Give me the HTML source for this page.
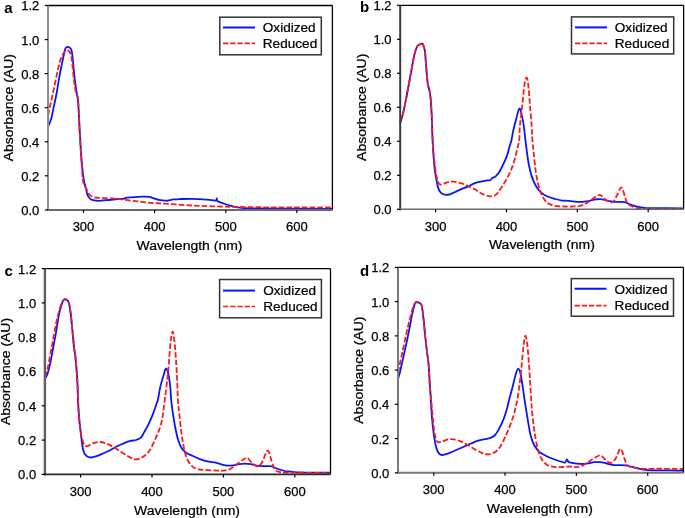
<!DOCTYPE html><html><head><meta charset="utf-8"><style>html,body{margin:0;padding:0;background:#fff;}svg{display:block;will-change:transform} .t{stroke:#000;stroke-width:0.25px}</style></head><body>
<svg width="685" height="518" viewBox="0 0 685 518" font-family='"Liberation Sans", sans-serif'>
<rect x="0" y="0" width="685" height="518" fill="#fff"/>
<path d="M48.10,126.60 C48.62,125.30 50.25,122.13 51.20,118.80 C52.15,115.47 52.93,110.67 53.80,106.60 C54.67,102.53 55.53,99.03 56.40,94.40 C57.27,89.77 58.12,83.72 59.00,78.80 C59.88,73.88 60.82,69.25 61.70,64.90 C62.58,60.55 63.58,55.58 64.30,52.70 C65.02,49.82 65.13,48.45 66.00,47.60 C66.87,46.75 68.55,47.03 69.50,47.60 C70.45,48.17 71.12,48.70 71.70,51.00 C72.28,53.30 72.65,58.22 73.00,61.40 C73.35,64.58 73.37,66.05 73.80,70.10 C74.23,74.15 75.02,81.35 75.60,85.70 C76.18,90.05 76.87,93.30 77.30,96.20 C77.73,99.10 77.92,99.63 78.20,103.10 C78.48,106.57 78.72,111.85 79.00,117.00 C79.28,122.15 79.48,126.83 79.90,134.00 C80.32,141.17 80.98,153.33 81.50,160.00 C82.02,166.67 82.50,170.12 83.00,174.00 C83.50,177.88 83.97,180.72 84.50,183.30 C85.03,185.88 85.73,187.63 86.20,189.50 C86.67,191.37 86.72,193.02 87.30,194.50 C87.88,195.98 88.72,197.45 89.70,198.40 C90.68,199.35 91.65,199.80 93.20,200.20 C94.75,200.60 96.87,200.80 99.00,200.80 C101.13,200.80 103.67,200.40 106.00,200.20 C108.33,200.00 111.05,199.80 113.00,199.60 C114.95,199.40 115.95,199.13 117.70,199.00 C119.45,198.87 122.13,199.00 123.50,198.80 C124.87,198.60 124.53,198.05 125.90,197.80 C127.27,197.55 129.75,197.45 131.70,197.30 C133.65,197.15 135.65,197.00 137.60,196.90 C139.55,196.80 141.47,196.70 143.40,196.70 C145.33,196.70 147.45,196.62 149.20,196.90 C150.95,197.18 152.33,197.90 153.90,198.40 C155.47,198.90 156.75,199.53 158.60,199.90 C160.45,200.27 163.43,200.47 165.00,200.60 C166.57,200.73 166.55,200.90 168.00,200.70 C169.45,200.50 171.48,199.68 173.70,199.40 C175.92,199.12 178.13,199.10 181.30,199.00 C184.47,198.90 189.58,198.77 192.70,198.80 C195.82,198.83 197.47,199.07 200.00,199.20 C202.53,199.33 205.27,199.38 207.90,199.60 C210.53,199.82 214.32,200.72 215.80,200.50 C217.28,200.28 216.48,198.17 216.80,198.30 C217.12,198.43 216.57,200.43 217.70,201.30 C218.83,202.17 221.62,202.80 223.60,203.50 C225.58,204.20 227.62,204.92 229.60,205.50 C231.58,206.08 233.20,206.58 235.50,207.00 C237.80,207.42 239.48,207.77 243.40,208.00 C247.32,208.23 244.23,208.27 259.00,208.40 C273.77,208.53 319.83,208.73 332.00,208.80" fill="none" stroke="#0a14ff" stroke-width="1.8" stroke-linejoin="round"/>
<path d="M48.10,115.30 C48.47,113.57 49.48,108.67 50.30,104.90 C51.12,101.13 52.12,96.77 53.00,92.70 C53.88,88.63 54.73,84.57 55.60,80.50 C56.47,76.43 57.33,71.92 58.20,68.30 C59.07,64.68 59.93,61.25 60.80,58.80 C61.67,56.35 62.38,55.05 63.40,53.60 C64.42,52.15 65.88,50.40 66.90,50.10 C67.92,49.80 68.78,50.78 69.50,51.80 C70.22,52.82 70.72,54.02 71.20,56.20 C71.68,58.38 71.97,61.13 72.40,64.90 C72.83,68.67 73.33,74.75 73.80,78.80 C74.27,82.85 74.77,86.60 75.20,89.20 C75.63,91.80 75.98,93.17 76.40,94.40 C76.82,95.63 77.38,95.15 77.70,96.60 C78.02,98.05 78.08,99.70 78.30,103.10 C78.52,106.50 78.77,111.85 79.00,117.00 C79.23,122.15 79.37,128.00 79.70,134.00 C80.03,140.00 80.48,145.48 81.00,153.00 C81.52,160.52 82.22,173.77 82.80,179.10 C83.38,184.43 83.83,183.23 84.50,185.00 C85.17,186.77 85.93,188.05 86.80,189.70 C87.67,191.35 88.45,193.63 89.70,194.90 C90.95,196.17 92.17,196.77 94.30,197.30 C96.43,197.83 99.57,197.92 102.50,198.10 C105.43,198.28 108.98,198.22 111.90,198.40 C114.82,198.58 117.08,198.85 120.00,199.20 C122.92,199.55 126.47,200.13 129.40,200.50 C132.33,200.87 134.68,201.07 137.60,201.40 C140.52,201.73 144.00,202.22 146.90,202.50 C149.80,202.78 151.98,202.90 155.00,203.10 C158.02,203.30 160.00,203.37 165.00,203.70 C170.00,204.03 179.17,204.73 185.00,205.10 C190.83,205.47 194.22,205.67 200.00,205.90 C205.78,206.13 213.13,206.32 219.70,206.50 C226.27,206.68 229.55,206.85 239.40,207.00 C249.25,207.15 263.37,207.33 278.80,207.40 C294.23,207.47 323.13,207.40 332.00,207.40" fill="none" stroke="#ff1a1a" stroke-width="1.8" stroke-dasharray="5.5 2.2" stroke-linejoin="round"/>
<line x1="48.0" y1="5.5" x2="332.4" y2="5.5" stroke="#000" stroke-width="1.3"/>
<line x1="332.4" y1="5.5" x2="332.4" y2="209.9" stroke="#000" stroke-width="1.3"/>
<line x1="48.0" y1="5.5" x2="48.0" y2="210.9" stroke="#8a8a8a" stroke-width="2.0"/>
<line x1="47.0" y1="209.9" x2="332.4" y2="209.9" stroke="#6a6a6a" stroke-width="2.0"/>
<line x1="44.8" y1="209.9" x2="48.0" y2="209.9" stroke="#000" stroke-width="1.2"/>
<text x="39.3" y="214.8" font-size="13" text-anchor="end" fill="#000" class="t">0.0</text>
<line x1="44.8" y1="175.8" x2="48.0" y2="175.8" stroke="#000" stroke-width="1.2"/>
<text x="39.3" y="180.7" font-size="13" text-anchor="end" fill="#000" class="t">0.2</text>
<line x1="44.8" y1="141.8" x2="48.0" y2="141.8" stroke="#000" stroke-width="1.2"/>
<text x="39.3" y="146.7" font-size="13" text-anchor="end" fill="#000" class="t">0.4</text>
<line x1="44.8" y1="107.7" x2="48.0" y2="107.7" stroke="#000" stroke-width="1.2"/>
<text x="39.3" y="112.6" font-size="13" text-anchor="end" fill="#000" class="t">0.6</text>
<line x1="44.8" y1="73.6" x2="48.0" y2="73.6" stroke="#000" stroke-width="1.2"/>
<text x="39.3" y="78.5" font-size="13" text-anchor="end" fill="#000" class="t">0.8</text>
<line x1="44.8" y1="39.6" x2="48.0" y2="39.6" stroke="#000" stroke-width="1.2"/>
<text x="39.3" y="44.5" font-size="13" text-anchor="end" fill="#000" class="t">1.0</text>
<line x1="44.8" y1="5.5" x2="48.0" y2="5.5" stroke="#000" stroke-width="1.2"/>
<text x="39.3" y="10.4" font-size="13" text-anchor="end" fill="#000" class="t">1.2</text>
<line x1="83.5" y1="209.9" x2="83.5" y2="212.9" stroke="#000" stroke-width="1.2"/>
<text x="83.5" y="231.4" font-size="13" text-anchor="middle" fill="#000" class="t">300</text>
<line x1="154.6" y1="209.9" x2="154.6" y2="212.9" stroke="#000" stroke-width="1.2"/>
<text x="154.6" y="231.4" font-size="13" text-anchor="middle" fill="#000" class="t">400</text>
<line x1="225.8" y1="209.9" x2="225.8" y2="212.9" stroke="#000" stroke-width="1.2"/>
<text x="225.8" y="231.4" font-size="13" text-anchor="middle" fill="#000" class="t">500</text>
<line x1="296.8" y1="209.9" x2="296.8" y2="212.9" stroke="#000" stroke-width="1.2"/>
<text x="296.8" y="231.4" font-size="13" text-anchor="middle" fill="#000" class="t">600</text>
<text transform="translate(189.5,249.6) scale(1,0.95)" x="0" y="0" font-size="14" text-anchor="middle" fill="#000" class="t">Wavelength (nm)</text>
<text transform="translate(13.3,107.7) rotate(-90) scale(1,0.93)" x="0" y="0" font-size="14" text-anchor="middle" fill="#000" class="t">Absorbance (AU)</text>
<rect x="219.8" y="17.2" width="101.5" height="37.6" fill="#fff" stroke="#333" stroke-width="1.5"/>
<line x1="223" y1="27.5" x2="255" y2="27.5" stroke="#0a14ff" stroke-width="2"/>
<line x1="223" y1="43.3" x2="255" y2="43.3" stroke="#ff1a1a" stroke-width="1.7" stroke-dasharray="5.3 1.9"/>
<text transform="translate(262.8,31.8) scale(1,0.94)" font-size="13.6" fill="#000" class="t">Oxidized</text>
<text transform="translate(262.8,47.8) scale(1,0.94)" font-size="13.6" fill="#000" class="t">Reduced</text>
<text x="4.3" y="12.6" font-size="15" font-weight="bold" fill="#000">a</text>
<path d="M400.20,122.60 C400.62,121.32 401.80,118.43 402.70,114.90 C403.60,111.37 404.63,106.22 405.60,101.40 C406.57,96.58 407.53,91.15 408.50,86.00 C409.47,80.85 410.43,75.65 411.40,70.50 C412.37,65.35 413.33,59.12 414.30,55.10 C415.27,51.08 416.08,48.27 417.20,46.40 C418.32,44.53 420.03,44.22 421.00,43.90 C421.97,43.58 422.35,43.28 423.00,44.50 C423.65,45.72 424.42,48.15 424.90,51.20 C425.38,54.25 425.58,58.93 425.90,62.80 C426.22,66.67 426.48,70.87 426.80,74.40 C427.12,77.93 427.32,81.12 427.80,84.00 C428.28,86.88 429.22,89.12 429.70,91.70 C430.18,94.28 430.37,95.63 430.70,99.50 C431.03,103.37 431.48,110.65 431.70,114.90 C431.92,119.15 431.87,121.18 432.00,125.00 C432.13,128.82 432.25,132.70 432.50,137.80 C432.75,142.90 433.12,150.27 433.50,155.60 C433.88,160.93 434.28,165.67 434.80,169.80 C435.32,173.93 436.02,177.30 436.60,180.40 C437.18,183.50 437.57,186.32 438.30,188.40 C439.03,190.48 439.95,191.85 441.00,192.90 C442.05,193.95 443.12,194.47 444.60,194.70 C446.08,194.93 448.13,194.75 449.90,194.30 C451.67,193.85 453.42,192.83 455.20,192.00 C456.98,191.17 458.52,190.18 460.60,189.30 C462.68,188.42 465.33,187.73 467.70,186.70 C470.07,185.67 472.43,184.00 474.80,183.10 C477.17,182.20 479.83,181.75 481.90,181.30 C483.97,180.85 485.85,180.57 487.20,180.40 C488.55,180.23 489.10,180.73 490.00,180.30 C490.90,179.87 491.67,178.45 492.60,177.80 C493.53,177.15 494.42,177.48 495.60,176.40 C496.78,175.32 498.32,173.55 499.70,171.30 C501.08,169.05 502.62,165.68 503.90,162.90 C505.18,160.12 506.48,157.27 507.40,154.60 C508.32,151.93 508.72,149.33 509.40,146.90 C510.08,144.47 510.88,142.58 511.50,140.00 C512.12,137.42 512.32,134.90 513.10,131.40 C513.88,127.90 515.17,122.80 516.20,119.00 C517.23,115.20 518.40,109.37 519.30,108.60 C520.20,107.83 520.83,111.37 521.60,114.40 C522.37,117.43 523.27,122.53 523.90,126.80 C524.53,131.07 524.92,135.95 525.40,140.00 C525.88,144.05 526.22,146.93 526.80,151.10 C527.38,155.27 528.08,160.83 528.90,165.00 C529.72,169.17 530.55,172.63 531.70,176.10 C532.85,179.57 534.30,183.13 535.80,185.80 C537.30,188.47 538.85,190.35 540.70,192.10 C542.55,193.85 544.47,195.15 546.90,196.30 C549.33,197.45 552.75,198.27 555.30,199.00 C557.85,199.73 560.58,200.43 562.20,200.70 C563.82,200.97 563.57,200.52 565.00,200.60 C566.43,200.68 568.85,201.00 570.80,201.20 C572.75,201.40 574.75,201.70 576.70,201.80 C578.65,201.90 580.55,201.90 582.50,201.80 C584.45,201.70 586.45,201.58 588.40,201.20 C590.35,200.82 592.27,199.85 594.20,199.50 C596.13,199.15 598.25,199.05 600.00,199.10 C601.75,199.15 603.13,199.45 604.70,199.80 C606.27,200.15 607.85,200.87 609.40,201.20 C610.95,201.53 612.25,201.70 614.00,201.80 C615.75,201.90 618.13,201.75 619.90,201.80 C621.67,201.85 623.23,201.82 624.60,202.10 C625.97,202.38 626.75,202.97 628.10,203.50 C629.45,204.03 630.95,204.75 632.70,205.30 C634.45,205.85 636.55,206.35 638.60,206.80 C640.65,207.25 643.40,207.78 645.00,208.00 C646.60,208.22 641.87,208.03 648.20,208.10 C654.53,208.17 677.20,208.35 683.00,208.40" fill="none" stroke="#0a14ff" stroke-width="1.8" stroke-linejoin="round"/>
<path d="M400.20,122.60 C400.62,121.32 401.80,118.43 402.70,114.90 C403.60,111.37 404.63,106.22 405.60,101.40 C406.57,96.58 407.53,91.15 408.50,86.00 C409.47,80.85 410.43,75.65 411.40,70.50 C412.37,65.35 413.33,59.12 414.30,55.10 C415.27,51.08 416.08,48.27 417.20,46.40 C418.32,44.53 420.03,44.22 421.00,43.90 C421.97,43.58 422.35,43.28 423.00,44.50 C423.65,45.72 424.42,48.15 424.90,51.20 C425.38,54.25 425.58,58.93 425.90,62.80 C426.22,66.67 426.48,70.87 426.80,74.40 C427.12,77.93 427.32,81.12 427.80,84.00 C428.28,86.88 429.22,89.12 429.70,91.70 C430.18,94.28 430.37,95.63 430.70,99.50 C431.03,103.37 431.48,110.65 431.70,114.90 C431.92,119.15 431.78,119.70 432.00,125.00 C432.22,130.30 432.53,140.13 433.00,146.70 C433.47,153.27 434.20,159.37 434.80,164.40 C435.40,169.43 435.87,173.63 436.60,176.90 C437.33,180.17 438.17,182.82 439.20,184.00 C440.23,185.18 441.32,184.30 442.80,184.00 C444.28,183.70 446.33,182.58 448.10,182.20 C449.87,181.82 451.32,181.55 453.40,181.70 C455.48,181.85 458.22,182.42 460.60,183.10 C462.98,183.78 465.33,184.77 467.70,185.80 C470.07,186.83 472.43,187.97 474.80,189.30 C477.17,190.63 479.53,192.67 481.90,193.80 C484.27,194.93 487.32,195.70 489.00,196.10 C490.68,196.50 490.82,196.43 492.00,196.20 C493.18,195.97 494.58,196.08 496.10,194.70 C497.62,193.32 499.33,190.53 501.10,187.90 C502.87,185.27 505.08,181.78 506.70,178.90 C508.32,176.02 509.53,173.62 510.80,170.60 C512.07,167.58 513.25,164.28 514.30,160.80 C515.35,157.32 516.28,153.17 517.10,149.70 C517.92,146.23 518.75,143.82 519.20,140.00 C519.65,136.18 519.40,131.58 519.80,126.80 C520.20,122.02 521.03,116.45 521.60,111.30 C522.17,106.15 522.70,100.45 523.20,95.90 C523.70,91.35 524.08,87.03 524.60,84.00 C525.12,80.97 525.82,78.37 526.30,77.70 C526.78,77.03 527.12,78.25 527.50,80.00 C527.88,81.75 528.17,83.75 528.60,88.20 C529.03,92.65 529.58,100.27 530.10,106.70 C530.62,113.13 531.32,121.25 531.70,126.80 C532.08,132.35 532.05,135.48 532.40,140.00 C532.75,144.52 533.23,148.58 533.80,153.90 C534.37,159.22 535.00,166.58 535.80,171.90 C536.60,177.22 537.55,181.85 538.60,185.80 C539.65,189.75 540.72,192.82 542.10,195.60 C543.48,198.38 545.17,200.88 546.90,202.50 C548.63,204.12 550.42,204.67 552.50,205.30 C554.58,205.93 557.32,206.10 559.40,206.30 C561.48,206.50 562.90,206.47 565.00,206.50 C567.10,206.53 569.67,206.57 572.00,206.50 C574.33,206.43 576.85,206.50 579.00,206.10 C581.15,205.70 583.15,204.92 584.90,204.10 C586.65,203.28 587.95,202.27 589.50,201.20 C591.05,200.13 592.53,198.77 594.20,197.70 C595.87,196.63 598.13,195.00 599.50,194.80 C600.87,194.60 601.33,195.63 602.40,196.50 C603.47,197.37 604.63,199.07 605.90,200.00 C607.17,200.93 608.83,201.75 610.00,202.10 C611.17,202.45 612.03,202.63 612.90,202.10 C613.77,201.57 614.33,200.42 615.20,198.90 C616.07,197.38 617.17,194.92 618.10,193.00 C619.03,191.08 620.02,187.88 620.80,187.40 C621.58,186.92 622.17,188.77 622.80,190.10 C623.43,191.43 623.92,193.35 624.60,195.40 C625.28,197.45 625.93,200.70 626.90,202.40 C627.87,204.10 628.85,204.68 630.40,205.60 C631.95,206.52 633.77,207.33 636.20,207.90 C638.63,208.47 637.20,208.82 645.00,209.00 C652.80,209.18 676.67,209.00 683.00,209.00" fill="none" stroke="#ff1a1a" stroke-width="1.8" stroke-dasharray="5.5 2.2" stroke-linejoin="round"/>
<line x1="400.2" y1="5.3" x2="683.6" y2="5.3" stroke="#000" stroke-width="1.3"/>
<line x1="683.6" y1="5.3" x2="683.6" y2="209.3" stroke="#000" stroke-width="1.3"/>
<line x1="400.2" y1="5.3" x2="400.2" y2="210.3" stroke="#3a3a3a" stroke-width="2.0"/>
<line x1="399.2" y1="209.3" x2="683.6" y2="209.3" stroke="#6a6a6a" stroke-width="1.6"/>
<line x1="397.0" y1="209.3" x2="400.2" y2="209.3" stroke="#000" stroke-width="1.2"/>
<text x="391.5" y="214.2" font-size="13" text-anchor="end" fill="#000" class="t">0.0</text>
<line x1="397.0" y1="175.3" x2="400.2" y2="175.3" stroke="#000" stroke-width="1.2"/>
<text x="391.5" y="180.2" font-size="13" text-anchor="end" fill="#000" class="t">0.2</text>
<line x1="397.0" y1="141.3" x2="400.2" y2="141.3" stroke="#000" stroke-width="1.2"/>
<text x="391.5" y="146.2" font-size="13" text-anchor="end" fill="#000" class="t">0.4</text>
<line x1="397.0" y1="107.3" x2="400.2" y2="107.3" stroke="#000" stroke-width="1.2"/>
<text x="391.5" y="112.2" font-size="13" text-anchor="end" fill="#000" class="t">0.6</text>
<line x1="397.0" y1="73.3" x2="400.2" y2="73.3" stroke="#000" stroke-width="1.2"/>
<text x="391.5" y="78.2" font-size="13" text-anchor="end" fill="#000" class="t">0.8</text>
<line x1="397.0" y1="39.3" x2="400.2" y2="39.3" stroke="#000" stroke-width="1.2"/>
<text x="391.5" y="44.2" font-size="13" text-anchor="end" fill="#000" class="t">1.0</text>
<line x1="397.0" y1="5.3" x2="400.2" y2="5.3" stroke="#000" stroke-width="1.2"/>
<text x="391.5" y="10.2" font-size="13" text-anchor="end" fill="#000" class="t">1.2</text>
<line x1="435.6" y1="209.3" x2="435.6" y2="212.3" stroke="#000" stroke-width="1.2"/>
<text x="435.6" y="230.8" font-size="13" text-anchor="middle" fill="#000" class="t">300</text>
<line x1="506.5" y1="209.3" x2="506.5" y2="212.3" stroke="#000" stroke-width="1.2"/>
<text x="506.5" y="230.8" font-size="13" text-anchor="middle" fill="#000" class="t">400</text>
<line x1="577.3" y1="209.3" x2="577.3" y2="212.3" stroke="#000" stroke-width="1.2"/>
<text x="577.3" y="230.8" font-size="13" text-anchor="middle" fill="#000" class="t">500</text>
<line x1="648.2" y1="209.3" x2="648.2" y2="212.3" stroke="#000" stroke-width="1.2"/>
<text x="648.2" y="230.8" font-size="13" text-anchor="middle" fill="#000" class="t">600</text>
<text transform="translate(541.9,248.6) scale(1,0.95)" x="0" y="0" font-size="14" text-anchor="middle" fill="#000" class="t">Wavelength (nm)</text>
<text transform="translate(365.5,107.3) rotate(-90) scale(1,0.93)" x="0" y="0" font-size="14" text-anchor="middle" fill="#000" class="t">Absorbance (AU)</text>
<rect x="571.5" y="16.9" width="102.2" height="37.0" fill="#fff" stroke="#333" stroke-width="1.5"/>
<line x1="575" y1="27.4" x2="607" y2="27.4" stroke="#0a14ff" stroke-width="2"/>
<line x1="575" y1="43.3" x2="607" y2="43.3" stroke="#ff1a1a" stroke-width="1.7" stroke-dasharray="5.3 1.9"/>
<text transform="translate(614.8,31.8) scale(1,0.94)" font-size="13.6" fill="#000" class="t">Oxidized</text>
<text transform="translate(614.8,47.9) scale(1,0.94)" font-size="13.6" fill="#000" class="t">Reduced</text>
<text x="360.0" y="12.3" font-size="15" font-weight="bold" fill="#000">b</text>
<path d="M44.90,379.00 C45.35,378.08 46.68,376.27 47.60,373.50 C48.52,370.73 49.47,366.72 50.40,362.40 C51.33,358.08 52.27,352.55 53.20,347.60 C54.13,342.65 55.08,337.95 56.00,332.70 C56.92,327.45 57.78,320.72 58.70,316.10 C59.62,311.48 60.67,307.72 61.50,305.00 C62.33,302.28 62.83,300.67 63.70,299.80 C64.57,298.93 65.83,299.25 66.70,299.80 C67.57,300.35 68.22,300.70 68.90,303.10 C69.58,305.50 70.18,309.27 70.80,314.20 C71.42,319.13 72.05,327.13 72.60,332.70 C73.15,338.27 73.63,343.58 74.10,347.60 C74.57,351.62 74.97,352.80 75.40,356.80 C75.83,360.80 76.33,366.73 76.70,371.60 C77.07,376.47 77.40,381.45 77.60,386.00 C77.80,390.55 77.65,393.60 77.90,398.90 C78.15,404.20 78.58,411.82 79.10,417.80 C79.62,423.78 80.32,429.43 81.00,434.80 C81.68,440.17 82.35,446.53 83.20,450.00 C84.05,453.47 84.83,454.35 86.10,455.60 C87.37,456.85 89.07,457.40 90.80,457.50 C92.53,457.60 94.60,456.82 96.50,456.20 C98.40,455.58 100.00,454.75 102.20,453.80 C104.40,452.85 107.18,451.77 109.70,450.50 C112.22,449.23 114.78,447.48 117.30,446.20 C119.82,444.92 122.60,443.68 124.80,442.80 C127.00,441.92 128.60,441.37 130.50,440.90 C132.40,440.43 134.47,440.53 136.20,440.00 C137.93,439.47 139.60,438.97 140.90,437.70 C142.20,436.43 142.72,434.67 144.00,432.40 C145.28,430.13 147.08,427.23 148.60,424.10 C150.12,420.97 151.73,417.12 153.10,413.60 C154.47,410.08 156.00,405.27 156.80,403.00 C157.60,400.73 157.30,402.77 157.90,400.00 C158.50,397.23 159.47,390.47 160.40,386.40 C161.33,382.33 162.60,378.57 163.50,375.60 C164.40,372.63 165.02,368.98 165.80,368.60 C166.58,368.22 167.47,370.33 168.20,373.30 C168.93,376.27 169.70,381.95 170.20,386.40 C170.70,390.85 170.78,395.72 171.20,400.00 C171.62,404.28 172.08,407.83 172.70,412.10 C173.32,416.37 174.03,421.08 174.90,425.60 C175.77,430.12 176.77,435.43 177.90,439.20 C179.03,442.97 180.32,445.95 181.70,448.20 C183.08,450.45 184.43,451.45 186.20,452.70 C187.97,453.95 190.03,454.63 192.30,455.70 C194.57,456.77 197.30,458.17 199.80,459.10 C202.30,460.03 204.63,460.70 207.30,461.30 C209.97,461.90 213.40,462.17 215.80,462.70 C218.20,463.23 219.75,464.02 221.70,464.50 C223.65,464.98 225.55,465.47 227.50,465.60 C229.45,465.73 231.45,465.55 233.40,465.30 C235.35,465.05 237.27,464.38 239.20,464.10 C241.13,463.82 243.05,463.58 245.00,463.60 C246.95,463.62 248.95,463.87 250.90,464.20 C252.85,464.53 254.75,465.27 256.70,465.60 C258.65,465.93 260.65,466.10 262.60,466.20 C264.55,466.30 266.85,466.17 268.40,466.20 C269.95,466.23 270.73,466.10 271.90,466.40 C273.07,466.70 274.03,467.45 275.40,468.00 C276.77,468.55 278.37,469.15 280.10,469.70 C281.83,470.25 283.88,470.98 285.80,471.30 C287.72,471.62 289.67,471.42 291.60,471.60 C293.53,471.78 290.93,472.22 297.40,472.40 C303.87,472.58 324.90,472.65 330.40,472.70" fill="none" stroke="#0a14ff" stroke-width="1.8" stroke-linejoin="round"/>
<path d="M44.90,376.80 C45.35,375.42 46.68,372.30 47.60,368.50 C48.52,364.70 49.47,358.92 50.40,354.00 C51.33,349.08 52.27,344.00 53.20,339.00 C54.13,334.00 55.08,328.43 56.00,324.00 C56.92,319.57 57.78,315.88 58.70,312.40 C59.62,308.92 60.67,305.20 61.50,303.10 C62.33,301.00 62.83,300.35 63.70,299.80 C64.57,299.25 65.83,299.25 66.70,299.80 C67.57,300.35 68.22,300.70 68.90,303.10 C69.58,305.50 70.18,309.27 70.80,314.20 C71.42,319.13 72.05,327.13 72.60,332.70 C73.15,338.27 73.63,343.58 74.10,347.60 C74.57,351.62 74.97,352.80 75.40,356.80 C75.83,360.80 76.33,366.73 76.70,371.60 C77.07,376.47 77.30,379.87 77.60,386.00 C77.90,392.13 78.03,401.20 78.50,408.40 C78.97,415.60 79.62,423.53 80.40,429.20 C81.18,434.87 82.10,439.57 83.20,442.40 C84.30,445.23 85.42,446.03 87.00,446.20 C88.58,446.37 90.65,444.10 92.70,443.40 C94.75,442.70 97.10,442.00 99.30,442.00 C101.50,442.00 103.53,442.55 105.90,443.40 C108.27,444.25 110.97,445.68 113.50,447.10 C116.03,448.52 118.58,450.32 121.10,451.90 C123.62,453.48 126.25,455.35 128.60,456.60 C130.95,457.85 133.13,459.17 135.20,459.40 C137.27,459.63 139.28,458.73 141.00,458.00 C142.72,457.27 143.98,456.38 145.50,455.00 C147.02,453.62 148.58,452.08 150.10,449.70 C151.62,447.32 153.10,443.97 154.60,440.70 C156.10,437.43 157.85,433.62 159.10,430.10 C160.35,426.58 161.35,423.12 162.10,419.60 C162.85,416.08 163.10,412.73 163.60,409.00 C164.10,405.27 164.47,402.25 165.10,397.20 C165.73,392.15 166.77,384.37 167.40,378.70 C168.03,373.03 168.38,369.12 168.90,363.20 C169.42,357.28 169.90,348.47 170.50,343.20 C171.10,337.93 171.87,332.12 172.50,331.60 C173.13,331.08 173.73,335.60 174.30,340.10 C174.87,344.60 175.43,352.17 175.90,358.60 C176.37,365.03 176.77,371.80 177.10,378.70 C177.43,385.60 177.52,393.93 177.90,400.00 C178.28,406.07 178.77,409.32 179.40,415.10 C180.03,420.88 180.93,429.18 181.70,434.70 C182.47,440.22 183.12,444.18 184.00,448.20 C184.88,452.22 185.62,455.78 187.00,458.80 C188.38,461.82 190.42,464.55 192.30,466.30 C194.18,468.05 195.80,468.67 198.30,469.30 C200.80,469.93 204.18,469.88 207.30,470.10 C210.42,470.32 214.22,470.52 217.00,470.60 C219.78,470.68 221.85,470.85 224.00,470.60 C226.15,470.35 228.15,469.83 229.90,469.10 C231.65,468.37 232.95,467.30 234.50,466.20 C236.05,465.10 237.63,463.67 239.20,462.50 C240.77,461.33 242.58,459.98 243.90,459.20 C245.22,458.42 246.13,457.60 247.10,457.80 C248.07,458.00 248.68,459.38 249.70,460.40 C250.72,461.42 251.93,462.90 253.20,463.90 C254.47,464.90 256.13,466.22 257.30,466.40 C258.47,466.58 259.23,466.00 260.20,465.00 C261.17,464.00 262.22,462.25 263.10,460.40 C263.98,458.55 264.82,455.50 265.50,453.90 C266.18,452.30 266.62,451.08 267.20,450.80 C267.78,450.52 268.42,451.00 269.00,452.20 C269.58,453.40 270.02,455.77 270.70,458.00 C271.38,460.23 272.32,463.55 273.10,465.60 C273.88,467.65 274.23,469.20 275.40,470.30 C276.57,471.40 277.67,471.82 280.10,472.20 C282.53,472.58 281.62,472.47 290.00,472.60 C298.38,472.73 323.67,472.93 330.40,473.00" fill="none" stroke="#ff1a1a" stroke-width="1.8" stroke-dasharray="5.5 2.2" stroke-linejoin="round"/>
<line x1="44.9" y1="268.6" x2="330.5" y2="268.6" stroke="#000" stroke-width="1.3"/>
<line x1="330.5" y1="268.6" x2="330.5" y2="474.4" stroke="#000" stroke-width="1.3"/>
<line x1="44.9" y1="268.6" x2="44.9" y2="475.4" stroke="#606060" stroke-width="2.4"/>
<line x1="43.9" y1="474.4" x2="330.5" y2="474.4" stroke="#2a2a2a" stroke-width="1.6"/>
<line x1="41.699999999999996" y1="474.4" x2="44.9" y2="474.4" stroke="#000" stroke-width="1.2"/>
<text x="36.2" y="479.3" font-size="13" text-anchor="end" fill="#000" class="t">0.0</text>
<line x1="41.699999999999996" y1="440.1" x2="44.9" y2="440.1" stroke="#000" stroke-width="1.2"/>
<text x="36.2" y="445.0" font-size="13" text-anchor="end" fill="#000" class="t">0.2</text>
<line x1="41.699999999999996" y1="405.8" x2="44.9" y2="405.8" stroke="#000" stroke-width="1.2"/>
<text x="36.2" y="410.7" font-size="13" text-anchor="end" fill="#000" class="t">0.4</text>
<text x="36.2" y="376.4" font-size="13" text-anchor="end" fill="#000" class="t">0.6</text>
<text x="36.2" y="342.1" font-size="13" text-anchor="end" fill="#000" class="t">0.8</text>
<line x1="41.699999999999996" y1="302.9" x2="44.9" y2="302.9" stroke="#000" stroke-width="1.2"/>
<text x="36.2" y="307.8" font-size="13" text-anchor="end" fill="#000" class="t">1.0</text>
<line x1="41.699999999999996" y1="268.6" x2="44.9" y2="268.6" stroke="#000" stroke-width="1.2"/>
<text x="36.2" y="273.5" font-size="13" text-anchor="end" fill="#000" class="t">1.2</text>
<line x1="80.6" y1="474.4" x2="80.6" y2="477.4" stroke="#000" stroke-width="1.2"/>
<text x="80.6" y="495.9" font-size="13" text-anchor="middle" fill="#000" class="t">300</text>
<line x1="152.0" y1="474.4" x2="152.0" y2="477.4" stroke="#000" stroke-width="1.2"/>
<text x="152.0" y="495.9" font-size="13" text-anchor="middle" fill="#000" class="t">400</text>
<line x1="223.4" y1="474.4" x2="223.4" y2="477.4" stroke="#000" stroke-width="1.2"/>
<text x="223.4" y="495.9" font-size="13" text-anchor="middle" fill="#000" class="t">500</text>
<line x1="294.8" y1="474.4" x2="294.8" y2="477.4" stroke="#000" stroke-width="1.2"/>
<text x="294.8" y="495.9" font-size="13" text-anchor="middle" fill="#000" class="t">600</text>
<text transform="translate(187.0,514.5) scale(1,0.95)" x="0" y="0" font-size="14" text-anchor="middle" fill="#000" class="t">Wavelength (nm)</text>
<text transform="translate(10.2,371.5) rotate(-90) scale(1,0.93)" x="0" y="0" font-size="14" text-anchor="middle" fill="#000" class="t">Absorbance (AU)</text>
<rect x="219.6" y="279.5" width="101.8" height="38.3" fill="#fff" stroke="#333" stroke-width="1.5"/>
<line x1="223" y1="290.6" x2="255" y2="290.6" stroke="#0a14ff" stroke-width="2"/>
<line x1="223" y1="306.5" x2="255" y2="306.5" stroke="#ff1a1a" stroke-width="1.7" stroke-dasharray="5.3 1.9"/>
<text transform="translate(263.2,295.0) scale(1,0.94)" font-size="13.6" fill="#000" class="t">Oxidized</text>
<text transform="translate(263.2,311.0) scale(1,0.94)" font-size="13.6" fill="#000" class="t">Reduced</text>
<text x="4.5" y="275.5" font-size="15" font-weight="bold" fill="#000">c</text>
<path d="M398.00,379.10 C398.38,377.72 399.47,374.22 400.30,370.80 C401.13,367.38 402.03,362.95 403.00,358.60 C403.97,354.25 405.10,349.33 406.10,344.70 C407.10,340.07 408.02,335.73 409.00,330.80 C409.98,325.87 411.12,319.30 412.00,315.10 C412.88,310.90 413.63,307.77 414.30,305.60 C414.97,303.43 415.13,302.53 416.00,302.10 C416.87,301.67 418.55,302.42 419.50,303.00 C420.45,303.58 421.03,303.00 421.70,305.60 C422.37,308.20 422.92,313.53 423.50,318.60 C424.08,323.67 424.62,330.48 425.20,336.00 C425.78,341.52 426.42,346.77 427.00,351.70 C427.58,356.63 428.22,359.88 428.70,365.60 C429.18,371.32 429.55,380.52 429.90,386.00 C430.25,391.48 430.47,393.33 430.80,398.50 C431.13,403.67 431.42,411.13 431.90,417.00 C432.38,422.87 433.02,428.75 433.70,433.70 C434.38,438.65 435.17,443.47 436.00,446.70 C436.83,449.93 437.63,451.72 438.70,453.10 C439.77,454.48 440.70,455.00 442.40,455.00 C444.10,455.00 446.58,453.93 448.90,453.10 C451.22,452.27 453.83,451.07 456.30,450.00 C458.77,448.93 461.23,447.78 463.70,446.70 C466.17,445.62 468.93,444.43 471.10,443.50 C473.27,442.57 474.83,441.75 476.70,441.10 C478.57,440.45 480.45,440.00 482.30,439.60 C484.15,439.20 486.52,438.98 487.80,438.70 C489.08,438.42 488.88,438.40 490.00,437.90 C491.12,437.40 493.00,437.20 494.50,435.70 C496.00,434.20 497.48,431.67 499.00,428.90 C500.52,426.13 502.33,422.23 503.60,419.10 C504.87,415.97 505.73,413.12 506.60,410.10 C507.47,407.08 508.38,402.68 508.80,401.00 C509.22,399.32 508.45,402.43 509.10,400.00 C509.75,397.57 511.58,390.72 512.70,386.40 C513.82,382.08 514.90,377.07 515.80,374.10 C516.70,371.13 517.33,368.73 518.10,368.60 C518.87,368.47 519.68,370.58 520.40,373.30 C521.12,376.02 521.70,380.45 522.40,384.90 C523.10,389.35 523.97,395.80 524.60,400.00 C525.23,404.20 525.57,406.17 526.20,410.10 C526.83,414.03 527.65,419.33 528.40,423.60 C529.15,427.87 529.70,432.05 530.70,435.70 C531.70,439.35 532.90,442.75 534.40,445.50 C535.90,448.25 537.82,450.50 539.70,452.20 C541.58,453.90 543.43,454.57 545.70,455.70 C547.97,456.83 550.53,457.95 553.30,459.00 C556.07,460.05 560.35,461.42 562.30,462.00 C564.25,462.58 564.20,462.92 565.00,462.50 C565.80,462.08 566.52,459.60 567.10,459.50 C567.68,459.40 567.68,461.35 568.50,461.90 C569.32,462.45 570.63,462.52 572.00,462.80 C573.37,463.08 574.95,463.40 576.70,463.60 C578.45,463.80 580.55,464.05 582.50,464.00 C584.45,463.95 586.45,463.60 588.40,463.30 C590.35,463.00 592.27,462.40 594.20,462.20 C596.13,462.00 598.25,462.00 600.00,462.10 C601.75,462.20 603.13,462.45 604.70,462.80 C606.27,463.15 607.85,463.82 609.40,464.20 C610.95,464.58 612.25,464.95 614.00,465.10 C615.75,465.25 617.95,465.05 619.90,465.10 C621.85,465.15 623.95,465.17 625.70,465.40 C627.45,465.63 628.83,466.12 630.40,466.50 C631.97,466.88 633.55,467.30 635.10,467.70 C636.65,468.10 638.05,468.55 639.70,468.90 C641.35,469.25 643.58,469.60 645.00,469.80 C646.42,470.00 645.75,470.02 648.20,470.10 C650.65,470.18 655.85,470.27 659.70,470.30 C663.55,470.33 667.42,470.23 671.30,470.30 C675.18,470.37 681.05,470.63 683.00,470.70" fill="none" stroke="#0a14ff" stroke-width="1.8" stroke-linejoin="round"/>
<path d="M398.00,372.50 C398.25,371.35 398.82,368.78 399.50,365.60 C400.18,362.42 401.18,357.75 402.10,353.40 C403.02,349.05 403.98,344.13 405.00,339.50 C406.02,334.87 407.15,329.95 408.20,325.60 C409.25,321.25 410.43,316.60 411.30,313.40 C412.17,310.20 412.70,308.20 413.40,306.40 C414.10,304.60 414.48,303.17 415.50,302.60 C416.52,302.03 418.47,302.50 419.50,303.00 C420.53,303.50 421.03,303.00 421.70,305.60 C422.37,308.20 422.92,313.53 423.50,318.60 C424.08,323.67 424.62,330.48 425.20,336.00 C425.78,341.52 426.42,346.77 427.00,351.70 C427.58,356.63 428.22,359.88 428.70,365.60 C429.18,371.32 429.37,378.97 429.90,386.00 C430.43,393.03 431.20,400.47 431.90,407.80 C432.60,415.13 433.27,424.45 434.10,430.00 C434.93,435.55 435.82,439.10 436.90,441.10 C437.98,443.10 438.90,442.25 440.60,442.00 C442.30,441.75 444.93,440.05 447.10,439.60 C449.27,439.15 451.45,439.05 453.60,439.30 C455.75,439.55 457.70,440.18 460.00,441.10 C462.30,442.02 464.92,443.42 467.40,444.80 C469.88,446.18 472.42,448.02 474.90,449.40 C477.38,450.78 480.15,452.27 482.30,453.10 C484.45,453.93 486.52,454.25 487.80,454.40 C489.08,454.55 488.63,454.48 490.00,454.00 C491.37,453.52 494.25,452.80 496.00,451.50 C497.75,450.20 498.98,448.58 500.50,446.20 C502.02,443.82 503.58,440.47 505.10,437.20 C506.62,433.93 508.22,430.12 509.60,426.60 C510.98,423.08 512.40,419.37 513.40,416.10 C514.40,412.83 514.95,409.68 515.60,407.00 C516.25,404.32 516.58,404.20 517.30,400.00 C518.02,395.80 519.13,387.93 519.90,381.80 C520.67,375.67 521.30,369.12 521.90,363.20 C522.50,357.28 522.93,350.87 523.50,346.30 C524.07,341.73 524.67,336.07 525.30,335.80 C525.93,335.53 526.70,340.13 527.30,344.70 C527.90,349.27 528.43,357.02 528.90,363.20 C529.37,369.38 529.72,375.67 530.10,381.80 C530.48,387.93 530.85,394.78 531.20,400.00 C531.55,405.22 531.67,407.92 532.20,413.10 C532.73,418.28 533.52,425.33 534.40,431.10 C535.28,436.87 536.37,443.17 537.50,447.70 C538.63,452.23 539.57,455.42 541.20,458.30 C542.83,461.18 545.03,463.55 547.30,465.00 C549.57,466.45 552.30,466.67 554.80,467.00 C557.30,467.33 559.77,467.08 562.30,467.00 C564.83,466.92 567.60,466.48 570.00,466.50 C572.40,466.52 574.62,467.25 576.70,467.10 C578.78,466.95 580.55,466.47 582.50,465.60 C584.45,464.73 586.45,463.15 588.40,461.90 C590.35,460.65 592.27,459.18 594.20,458.10 C596.13,457.02 598.45,455.45 600.00,455.40 C601.55,455.35 602.33,456.82 603.50,457.80 C604.67,458.78 605.92,460.47 607.00,461.30 C608.08,462.13 609.02,462.70 610.00,462.80 C610.98,462.90 611.83,462.83 612.90,461.90 C613.97,460.97 615.43,458.95 616.40,457.20 C617.37,455.45 618.02,452.80 618.70,451.40 C619.38,450.00 619.92,448.80 620.50,448.80 C621.08,448.80 621.62,450.00 622.20,451.40 C622.78,452.80 623.32,455.17 624.00,457.20 C624.68,459.23 625.43,462.05 626.30,463.60 C627.17,465.15 627.73,465.82 629.20,466.50 C630.67,467.18 632.47,467.30 635.10,467.70 C637.73,468.10 641.85,468.73 645.00,468.90 C648.15,469.07 647.67,468.68 654.00,468.70 C660.33,468.72 678.17,468.95 683.00,469.00" fill="none" stroke="#ff1a1a" stroke-width="1.8" stroke-dasharray="5.5 2.2" stroke-linejoin="round"/>
<line x1="398.0" y1="267.4" x2="683.4" y2="267.4" stroke="#000" stroke-width="1.3"/>
<line x1="683.4" y1="267.4" x2="683.4" y2="472.8" stroke="#000" stroke-width="1.3"/>
<line x1="398.0" y1="267.4" x2="398.0" y2="473.8" stroke="#7a7a7a" stroke-width="2.0"/>
<line x1="397.0" y1="472.8" x2="683.4" y2="472.8" stroke="#767676" stroke-width="2.0"/>
<line x1="394.8" y1="472.8" x2="398.0" y2="472.8" stroke="#000" stroke-width="1.2"/>
<text x="389.3" y="477.7" font-size="13" text-anchor="end" fill="#000" class="t">0.0</text>
<line x1="394.8" y1="438.6" x2="398.0" y2="438.6" stroke="#000" stroke-width="1.2"/>
<text x="389.3" y="443.5" font-size="13" text-anchor="end" fill="#000" class="t">0.2</text>
<line x1="394.8" y1="404.3" x2="398.0" y2="404.3" stroke="#000" stroke-width="1.2"/>
<text x="389.3" y="409.2" font-size="13" text-anchor="end" fill="#000" class="t">0.4</text>
<line x1="394.8" y1="370.1" x2="398.0" y2="370.1" stroke="#000" stroke-width="1.2"/>
<text x="389.3" y="375.0" font-size="13" text-anchor="end" fill="#000" class="t">0.6</text>
<line x1="394.8" y1="335.9" x2="398.0" y2="335.9" stroke="#000" stroke-width="1.2"/>
<text x="389.3" y="340.8" font-size="13" text-anchor="end" fill="#000" class="t">0.8</text>
<line x1="394.8" y1="301.6" x2="398.0" y2="301.6" stroke="#000" stroke-width="1.2"/>
<text x="389.3" y="306.5" font-size="13" text-anchor="end" fill="#000" class="t">1.0</text>
<line x1="394.8" y1="267.4" x2="398.0" y2="267.4" stroke="#000" stroke-width="1.2"/>
<text x="389.3" y="272.3" font-size="13" text-anchor="end" fill="#000" class="t">1.2</text>
<line x1="433.7" y1="472.8" x2="433.7" y2="475.8" stroke="#000" stroke-width="1.2"/>
<text x="433.7" y="494.3" font-size="13" text-anchor="middle" fill="#000" class="t">300</text>
<line x1="505.0" y1="472.8" x2="505.0" y2="475.8" stroke="#000" stroke-width="1.2"/>
<text x="505.0" y="494.3" font-size="13" text-anchor="middle" fill="#000" class="t">400</text>
<line x1="576.4" y1="472.8" x2="576.4" y2="475.8" stroke="#000" stroke-width="1.2"/>
<text x="576.4" y="494.3" font-size="13" text-anchor="middle" fill="#000" class="t">500</text>
<line x1="647.7" y1="472.8" x2="647.7" y2="475.8" stroke="#000" stroke-width="1.2"/>
<text x="647.7" y="494.3" font-size="13" text-anchor="middle" fill="#000" class="t">600</text>
<text transform="translate(539.8,513.2) scale(1,0.95)" x="0" y="0" font-size="14" text-anchor="middle" fill="#000" class="t">Wavelength (nm)</text>
<text transform="translate(363.3,370.1) rotate(-90) scale(1,0.93)" x="0" y="0" font-size="14" text-anchor="middle" fill="#000" class="t">Absorbance (AU)</text>
<rect x="571.3" y="278.6" width="102.2" height="37.6" fill="#fff" stroke="#333" stroke-width="1.5"/>
<line x1="574.6" y1="288.8" x2="606.5" y2="288.8" stroke="#0a14ff" stroke-width="2"/>
<line x1="574.6" y1="305.6" x2="606.5" y2="305.6" stroke="#ff1a1a" stroke-width="1.7" stroke-dasharray="5.3 1.9"/>
<text transform="translate(614.6,294.1) scale(1,0.94)" font-size="13.6" fill="#000" class="t">Oxidized</text>
<text transform="translate(614.6,309.8) scale(1,0.94)" font-size="13.6" fill="#000" class="t">Reduced</text>
<text x="360.0" y="275.5" font-size="15" font-weight="bold" fill="#000">d</text>
</svg></body></html>
